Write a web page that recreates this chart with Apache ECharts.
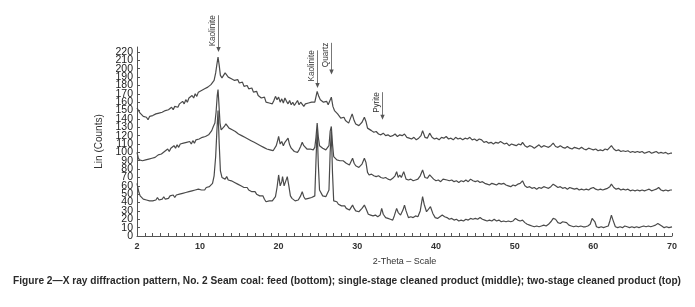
<!DOCTYPE html>
<html>
<head>
<meta charset="utf-8">
<script src="https://cdn.jsdelivr.net/npm/echarts@6/dist/echarts.min.js"></script>
<style>
  html, body { margin: 0; padding: 0; background: #fff; }
  #chart { width: 695px; height: 307px; }
</style>
</head>
<body>
<div id="chart"></div>
<script>
// two-stage cleaned product (top trace), [2-theta, counts]
const twoStage = [
  [2,153],[2.2,150],[2.4,147],[2.6,145],[2.8,143],[3.0,141],[3.2,142],[3.4,139],[3.6,143],[3.8,142],[4.0,144],[4.2,143],[4.4,146],[4.6,144],[4.8,147],[5.0,145],[5.2,148],[5.4,146],[5.6,150],[5.8,148],[6.0,151],[6.2,149],[6.4,154],[6.6,151],[6.8,155],[7.0,157],[7.2,154],[7.4,158],[7.6,156],[7.8,161],[8.0,158],[8.2,163],[8.4,160],[8.6,165],[8.8,163],[9.0,168],[9.2,165],[9.4,170],[9.6,167],[9.8,172],[10.0,170],[10.2,174],[10.4,172],[10.6,176],[10.8,174],[11.0,178],[11.2,177],[11.4,181],[11.6,183],[11.8,186],[12.0,195],[12.15,205],[12.3,214],[12.45,204],[12.6,192],[12.8,189],[13.0,192],[13.2,195],[13.4,193],[13.6,190],[13.8,192],[14.0,188],[14.2,190],[14.4,186],[14.6,184],[14.8,187],[15.0,183],[15.2,181],[15.4,184],[15.6,179],[15.8,177],[16.0,180],[16.2,176],[16.4,174],[16.6,177],[16.8,172],[17.0,171],[17.2,173],[17.4,168],[17.6,170],[17.8,165],[18.0,163],[18.2,166],[18.4,160],[18.6,162],[18.8,159],[19.0,161],[19.2,158],[19.4,162],[19.6,167],[19.8,163],[20.0,166],[20.2,160],[20.4,164],[20.6,159],[20.8,165],[21.0,161],[21.2,158],[21.4,162],[21.6,157],[21.8,160],[22.0,156],[22.2,159],[22.4,162],[22.6,157],[22.8,160],[23.0,158],[23.2,155],[23.4,158],[23.6,156],[23.8,159],[24.0,157],[24.2,160],[24.4,158],[24.6,160],[24.9,173],[25.1,167],[25.3,163],[25.5,165],[25.7,160],[25.9,158],[26.1,161],[26.3,157],[26.5,158],[26.7,166],[26.9,155],[27.1,150],[27.3,148],[27.5,146],[27.7,144],[27.9,141],[28.1,140],[28.3,142],[28.5,138],[28.7,137],[28.9,135],[29.1,137],[29.35,146],[29.6,138],[29.8,134],[30.0,133],[30.2,132],[30.4,134],[30.6,136],[30.9,142],[31.1,137],[31.3,129],[31.5,127],[31.8,126],[32.1,124],[32.4,125],[32.7,122],[33.0,121],[33.3,123],[33.6,120],[33.9,121],[34.2,119],[34.5,120],[34.8,122],[35.1,119],[35.4,121],[35.7,120],[36.0,122],[36.3,118],[36.6,117],[36.9,116],[37.2,118],[37.5,115],[37.8,117],[38.1,120],[38.3,126],[38.6,118],[38.9,117],[39.2,123],[39.5,118],[39.8,116],[40.1,117],[40.4,115],[40.7,118],[41.0,117],[41.3,119],[41.6,116],[41.9,117],[42.2,115],[42.5,118],[42.8,116],[43.1,117],[43.4,115],[43.7,117],[44.0,116],[44.3,118],[44.6,115],[44.9,116],[45.2,114],[45.5,116],[45.8,115],[46.1,112],[46.4,113],[46.7,111],[47.0,112],[47.3,110],[47.6,112],[47.9,111],[48.2,113],[48.4,114],[48.7,110],[49.0,111],[49.3,108],[49.6,110],[49.9,109],[50.2,108],[50.5,110],[50.8,109],[51.0,112],[51.3,108],[51.6,106],[51.9,108],[52.2,107],[52.5,105],[52.8,107],[53.1,109],[53.4,106],[53.7,108],[54.0,107],[54.3,106],[54.6,108],[54.9,111],[55.2,107],[55.5,106],[55.8,108],[56.1,106],[56.4,105],[56.7,107],[57.0,105],[57.3,104],[57.6,106],[57.9,105],[58.2,104],[58.5,106],[58.8,104],[59.1,103],[59.4,105],[59.7,104],[60.0,103],[60.3,104],[60.6,102],[60.9,103],[61.2,102],[61.5,104],[61.8,103],[62.0,105],[62.3,108],[62.6,104],[62.9,102],[63.2,103],[63.5,101],[63.8,102],[64.1,101],[64.4,102],[64.7,100],[65.0,101],[65.3,100],[65.6,101],[65.9,100],[66.2,101],[66.5,99],[66.8,100],[67.1,101],[67.4,99],[67.7,100],[68.0,101],[68.3,99],[68.6,100],[68.9,99],[69.2,100],[69.5,98],[69.8,99],[70,99]
]

// single-stage cleaned product (middle trace)
const singleStage = [
  [2,100],[2.15,94],[2.3,91],[2.5,89],[2.7,90],[2.9,88],[3.1,91],[3.3,89],[3.5,92],[3.7,90],[3.9,93],[4.1,91],[4.3,94],[4.5,93],[4.7,97],[4.9,95],[5.1,98],[5.3,96],[5.5,101],[5.7,99],[5.9,104],[6.1,101],[6.3,105],[6.5,103],[6.7,108],[6.9,105],[7.1,109],[7.3,106],[7.5,110],[7.7,108],[7.9,111],[8.1,109],[8.3,112],[8.5,110],[8.7,113],[8.9,110],[9.1,114],[9.3,111],[9.5,115],[9.7,113],[9.9,116],[10.1,114],[10.3,118],[10.5,116],[10.7,119],[10.9,117],[11.1,121],[11.3,120],[11.5,126],[11.7,131],[11.9,135],[12.05,148],[12.2,168],[12.3,175],[12.4,160],[12.55,135],[12.7,127],[12.9,129],[13.1,131],[13.3,134],[13.5,132],[13.7,129],[13.9,131],[14.1,127],[14.3,128],[14.5,125],[14.7,126],[14.9,122],[15.1,124],[15.3,120],[15.5,121],[15.7,118],[15.9,120],[16.1,116],[16.3,117],[16.5,114],[16.7,115],[16.9,112],[17.1,113],[17.3,110],[17.5,111],[17.7,108],[17.9,109],[18.1,106],[18.3,107],[18.5,104],[18.7,105],[18.9,103],[19.1,104],[19.3,102],[19.5,104],[19.7,108],[19.9,115],[20.0,119],[20.2,110],[20.4,113],[20.6,108],[20.8,112],[21.0,110],[21.2,117],[21.4,109],[21.6,105],[21.8,103],[22.0,101],[22.2,99],[22.4,100],[22.6,103],[22.8,107],[23.0,112],[23.2,108],[23.4,106],[23.6,104],[23.8,106],[24.0,104],[24.2,105],[24.4,103],[24.6,106],[24.75,118],[24.9,135],[25.05,118],[25.2,108],[25.4,107],[25.6,105],[25.8,106],[26.0,103],[26.2,104],[26.4,108],[26.55,125],[26.7,131],[26.85,110],[27.0,95],[27.2,93],[27.4,91],[27.6,92],[27.8,90],[28.0,89],[28.2,90],[28.4,88],[28.6,87],[28.8,86],[29.0,85],[29.2,87],[29.4,93],[29.6,87],[29.8,84],[30.0,83],[30.2,82],[30.4,84],[30.6,86],[30.9,93],[31.1,88],[31.3,76],[31.5,73],[31.8,74],[32.1,72],[32.4,71],[32.7,72],[33.0,70],[33.3,69],[33.6,70],[33.9,68],[34.2,67],[34.5,69],[34.8,72],[35.0,77],[35.2,70],[35.4,73],[35.6,70],[35.9,77],[36.2,68],[36.5,67],[36.8,68],[37.1,66],[37.4,67],[37.7,68],[38.0,72],[38.3,79],[38.6,70],[38.9,69],[39.2,73],[39.4,75],[39.7,68],[40.0,66],[40.3,67],[40.6,65],[40.9,68],[41.1,70],[41.4,67],[41.7,66],[42.0,67],[42.3,65],[42.6,66],[42.9,64],[43.2,66],[43.5,65],[43.8,67],[44.1,65],[44.4,68],[44.7,66],[45.0,65],[45.3,66],[45.6,64],[45.9,65],[46.2,63],[46.5,62],[46.8,61],[47.1,63],[47.4,62],[47.7,61],[48.0,63],[48.3,62],[48.6,63],[48.9,61],[49.2,60],[49.5,59],[49.8,61],[50.1,60],[50.4,62],[50.7,63],[51.0,66],[51.3,60],[51.6,58],[51.9,59],[52.2,57],[52.5,58],[52.8,56],[53.1,58],[53.4,57],[53.7,59],[54.0,58],[54.3,57],[54.6,59],[54.9,62],[55.2,60],[55.5,58],[55.8,59],[56.1,57],[56.4,58],[56.7,56],[57.0,58],[57.3,57],[57.6,56],[57.9,57],[58.2,55],[58.5,56],[58.8,55],[59.1,56],[59.4,55],[59.7,57],[60.0,58],[60.3,56],[60.6,55],[60.9,56],[61.2,55],[61.5,56],[61.8,57],[62.1,59],[62.3,62],[62.6,58],[62.9,56],[63.2,57],[63.5,55],[63.8,56],[64.1,55],[64.4,56],[64.7,54],[65.0,55],[65.3,54],[65.6,55],[65.9,54],[66.2,55],[66.5,54],[66.8,55],[67.1,56],[67.4,54],[67.7,55],[68.0,56],[68.3,58],[68.6,55],[68.9,54],[69.2,55],[69.5,54],[69.8,55],[70,55]
]

// feed (bottom trace)
const feed = [
  [2,63],[2.1,58],[2.25,52],[2.4,48],[2.6,46],[2.8,44],[3.0,45],[3.2,43],[3.4,44],[3.6,42],[3.8,44],[4.0,42],[4.2,44],[4.4,43],[4.6,46],[4.8,43],[5.0,45],[5.2,44],[5.4,47],[5.6,44],[5.8,46],[6.0,45],[6.2,48],[6.4,46],[6.6,49],[6.8,46],[7.0,49],[7.2,47],[7.4,50],[7.6,48],[7.8,51],[8.0,49],[8.2,52],[8.4,50],[8.6,53],[8.8,51],[9.0,54],[9.2,52],[9.4,55],[9.6,53],[9.8,56],[10.0,54],[10.2,55],[10.4,57],[10.6,55],[10.8,58],[11.0,57],[11.2,59],[11.4,57],[11.6,63],[11.8,72],[12.0,95],[12.15,125],[12.3,150],[12.45,110],[12.6,78],[12.8,70],[13.0,72],[13.2,68],[13.4,71],[13.6,67],[13.8,69],[14.0,66],[14.2,67],[14.4,64],[14.6,65],[14.8,62],[15.0,63],[15.2,60],[15.4,61],[15.6,58],[15.8,57],[16.0,58],[16.2,55],[16.4,56],[16.6,53],[16.8,52],[17.0,53],[17.2,50],[17.4,51],[17.6,48],[17.8,47],[18.0,48],[18.2,44],[18.4,41],[18.6,43],[18.8,42],[19.0,44],[19.2,42],[19.4,44],[19.6,47],[19.8,58],[20.0,73],[20.2,60],[20.4,65],[20.5,71],[20.7,60],[20.9,58],[21.1,71],[21.3,60],[21.5,48],[21.7,45],[21.9,43],[22.1,42],[22.3,41],[22.5,43],[22.8,48],[23.0,53],[23.2,47],[23.4,44],[23.6,43],[23.8,45],[24.0,44],[24.2,46],[24.4,44],[24.6,48],[24.75,90],[24.9,128],[25.05,85],[25.2,55],[25.4,53],[25.6,48],[25.8,50],[26.0,47],[26.2,49],[26.4,55],[26.55,100],[26.7,125],[26.85,75],[27.0,42],[27.2,40],[27.4,41],[27.6,38],[27.8,37],[28.0,36],[28.2,35],[28.4,36],[28.6,33],[28.8,32],[29.0,31],[29.2,33],[29.4,37],[29.6,33],[29.8,30],[30.0,29],[30.2,29],[30.4,31],[30.6,33],[30.9,37],[31.1,33],[31.4,26],[31.7,25],[32.0,24],[32.3,25],[32.6,23],[32.9,25],[33.1,33],[33.3,26],[33.6,22],[33.9,21],[34.2,20],[34.5,19],[34.7,24],[35.0,33],[35.2,28],[35.5,25],[35.8,31],[36.0,37],[36.2,30],[36.5,22],[36.8,23],[37.1,22],[37.4,24],[37.7,23],[38.0,30],[38.3,47],[38.5,38],[38.8,29],[39.0,31],[39.3,35],[39.6,27],[39.9,22],[40.2,21],[40.5,23],[40.8,25],[41.1,23],[41.4,22],[41.7,20],[42.0,21],[42.3,19],[42.6,20],[42.9,18],[43.2,19],[43.5,18],[43.8,20],[44.1,19],[44.4,21],[44.7,20],[45.0,21],[45.3,20],[45.6,22],[45.9,20],[46.2,19],[46.5,18],[46.8,19],[47.1,18],[47.4,20],[47.7,18],[48.0,19],[48.3,17],[48.6,18],[48.9,17],[49.2,18],[49.5,17],[49.8,18],[50.1,21],[50.4,19],[50.7,18],[51.0,19],[51.3,16],[51.6,14],[51.9,13],[52.2,12],[52.5,11],[52.8,12],[53.1,11],[53.4,12],[53.7,13],[54.0,12],[54.3,14],[54.6,17],[54.9,21],[55.2,20],[55.5,16],[55.8,15],[56.1,17],[56.3,19],[56.6,16],[56.9,13],[57.2,12],[57.5,11],[57.8,12],[58.1,11],[58.4,12],[58.7,11],[59.0,11],[59.3,12],[59.6,14],[59.85,21],[60.0,23],[60.2,17],[60.4,11],[60.7,10],[61.0,11],[61.3,10],[61.6,11],[61.9,12],[62.1,18],[62.3,25],[62.5,19],[62.8,11],[63.1,10],[63.4,11],[63.7,10],[64.0,12],[64.3,11],[64.6,10],[64.9,11],[65.2,10],[65.5,11],[65.8,10],[66.1,11],[66.4,12],[66.7,11],[67.0,12],[67.3,11],[67.6,12],[67.9,13],[68.2,15],[68.4,16],[68.7,12],[69.0,10],[69.3,11],[69.6,10],[70,11]
]

// peak labels: mineral, 2-theta, counts at arrow tip, counts at top of label
const peakNames = ['Kaolinite', 'Kaolinite', 'Quartz', 'Pyrite']
const peakTheta = [12.3, 24.9, 26.7, 33.1]
const peakTip = [220, 177, 193, 139]
const peakTop = [264, 222, 231, 172]

const xLabels = [2, 10, 20, 30, 40, 50, 60, 70]
const yLabels = [0,10,20,30,40,50,60,70,80,90,100,110,120,130,140,150,160,170,180,190,200,210,220]
const xTicks = []
for (let t = 2; t <= 70; t++) xTicks.push(t)
// the y labels are packed tighter than their text height, so they are split
// over two overlaid axes to keep ECharts from dropping any of them
const yLabelsA = yLabels.filter((v, i) => i % 2 === 0)
const yLabelsB = yLabels.filter((v, i) => i % 2 === 1)

const caption = 'Figure 2\u2014X ray diffraction pattern, No. 2 Seam coal: feed (bottom); single-stage cleaned product (middle); two-stage cleaned product (top)'

const chart = echarts.init(document.getElementById('chart'))
const lineColor = '#4a4a4a'
const axisFont = 'Arial, "Liberation Sans", sans-serif'
const mkSeries = (name, data) => ({
  name,
  type: 'line',
  data,
  showSymbol: false,
  symbol: 'none',
  lineStyle: { color: lineColor, width: 1.2 },
  z: 3
})
const yLabelStyle = (values) => ({
  customValues: values,
  showMinLabel: true,
  showMaxLabel: true,
  fontFamily: axisFont,
  fontSize: 10.5,
  color: '#222',
  margin: 4
})

chart.setOption({
  animation: false,
  backgroundColor: '#fff',
  grid: { left: 137, right: 23, top: 47, bottom: 71 },
  xAxis: {
    type: 'value',
    min: 2,
    max: 70,
    name: '2-Theta \u2013 Scale',
    nameLocation: 'middle',
    nameGap: 21,
    nameTextStyle: { fontFamily: axisFont, fontSize: 9, color: '#333' },
    axisLine: { lineStyle: { color: '#555', width: 1 } },
    axisTick: { inside: true, length: 3, customValues: xTicks, lineStyle: { color: '#555' } },
    axisLabel: {
      customValues: xLabels,
      showMinLabel: true,
      showMaxLabel: true,
      fontFamily: axisFont,
      fontSize: 9,
      fontWeight: 'bold',
      color: '#333',
      margin: 6
    },
    splitLine: { show: false }
  },
  yAxis: [
    {
      type: 'value',
      min: 0,
      max: 226,
      name: 'Lin (Counts)',
      nameLocation: 'middle',
      nameGap: 23,
      nameTextStyle: { fontFamily: axisFont, fontSize: 10, color: '#333' },
      axisLine: { show: true, lineStyle: { color: '#555', width: 1 } },
      axisTick: { show: true, inside: true, length: 3, customValues: yLabels, lineStyle: { color: '#555' } },
      axisLabel: yLabelStyle(yLabelsA),
      splitLine: { show: false }
    },
    {
      type: 'value',
      position: 'left',
      min: 0,
      max: 226,
      axisLine: { show: false },
      axisTick: { show: false },
      axisLabel: yLabelStyle(yLabelsB),
      splitLine: { show: false }
    }
  ],
  series: [
    mkSeries('two-stage', twoStage),
    mkSeries('single-stage', singleStage),
    mkSeries('feed', feed)
  ]
})

// caption squeezed to the condensed width of the printed figure
const capFont = 'bold 11px Arial, "Liberation Sans", sans-serif'
const ctx = document.createElement('canvas').getContext('2d')
ctx.font = capFont
const capScale = 668 / ctx.measureText(caption).width

// arrows with vertical mineral labels, placed through the axes' scales
const marks = [{
  type: 'text',
  x: 347,
  y: 281,
  scaleX: capScale,
  style: {
    text: caption,
    align: 'center',
    verticalAlign: 'middle',
    font: capFont,
    fill: '#2a2a2a'
  }
}]
peakNames.forEach((name, i) => {
  const tip = chart.convertToPixel({ gridIndex: 0 }, [peakTheta[i], peakTip[i]])
  const top = chart.convertToPixel({ gridIndex: 0 }, [peakTheta[i], peakTop[i]])
  const x = Math.round(tip[0]) + 0.5
  marks.push({
    type: 'line',
    shape: { x1: x, y1: top[1], x2: x, y2: tip[1] - 3 },
    style: { stroke: '#777', lineWidth: 1 }
  })
  marks.push({
    type: 'polygon',
    shape: { points: [[x - 2.2, tip[1] - 5], [x + 2.2, tip[1] - 5], [x, tip[1]]] },
    style: { fill: '#555' }
  })
  marks.push({
    type: 'text',
    x: x - 1.5,
    y: top[1],
    rotation: Math.PI / 2,
    scaleX: 0.9,
    style: {
      text: name,
      align: 'right',
      verticalAlign: 'bottom',
      fontFamily: axisFont,
      fontSize: 9,
      fill: '#333'
    }
  })
})
chart.setOption({ graphic: marks })
</script>
</body>
</html>
